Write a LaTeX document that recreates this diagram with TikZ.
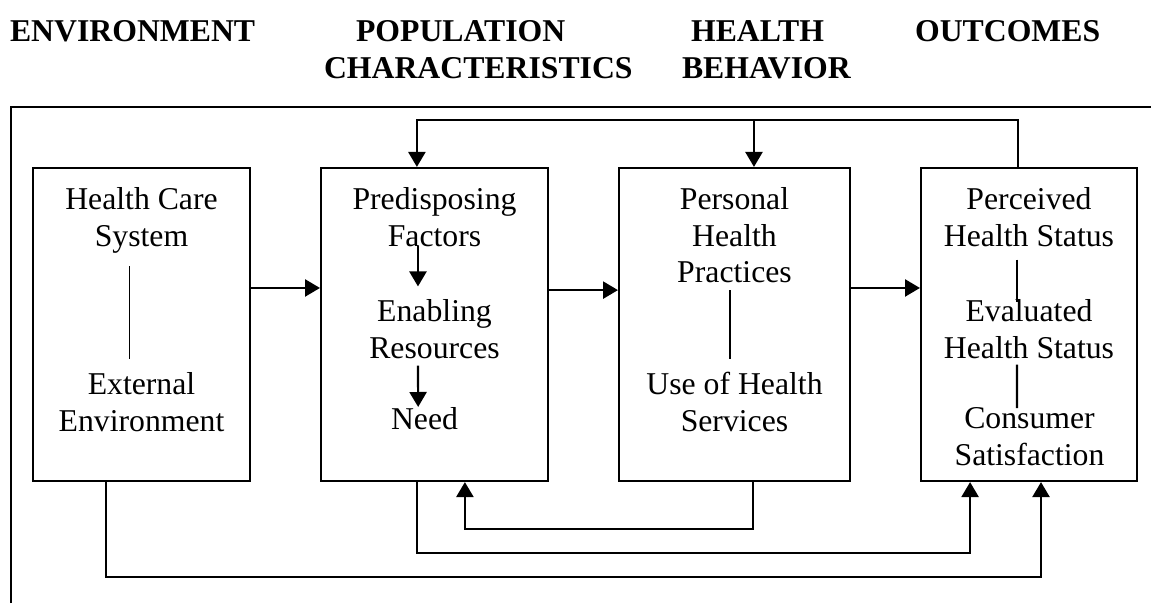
\documentclass[tikz,border=0pt]{standalone}
\usepackage{fontspec}
\setmainfont{Liberation Serif}
\usetikzlibrary{arrows.meta}

\begin{document}
\begin{tikzpicture}[x=0.375pt, y=-0.375pt, line width=0.8pt,
        box/.style={draw, minimum height=117.4pt, inner sep=0pt},
        txt/.style={align=center, anchor=north, inner sep=4.5pt, font=\fontsize{11.9}{13.76}\selectfont},
        head/.style={anchor=base west, inner sep=0pt, font=\fontsize{11.9}{13.76}\selectfont\bfseries},
        arr/.style={-{Triangle[length=5.6pt, width=6.4pt]}}]
        \useasboundingbox (0,0) rectangle (1151,603);

        \node[head] (henv) at (9,41) {ENVIRONMENT};
        \node[head] (hpop) at (355,41) {POPULATION};
        \node[head] (hchar) at (323,78) {CHARACTERISTICS};
        \node[head] (hhea) at (690,41) {HEALTH};
        \node[head] (hbeh) at (681,78) {BEHAVIOR};
        \node[head] (hout) at (914,41) {OUTCOMES};

        \draw (11,603) -- (11,107) -- (1151,107);

        \node[box, minimum width=81.4pt] (env) at (141.5,324.5) {};
        \node[box, minimum width=85.1pt] (pop) at (434.5,324.5) {};
        \node[box, minimum width=86.6pt] (beh) at (734.5,324.5) {};
        \node[box, minimum width=81pt] (out) at (1029,324.5) {};

        \node[txt] (hcs) at (141.5,174.4) {Health Care\\System};
        \node[txt] (ext) at (141.5,359.4) {External\\Environment};
        \node[txt] (pf) at (434.5,174.4) {Predisposing\\Factors};
        \node[txt] (er) at (434.5,286.4) {Enabling\\Resources};
        \node[txt] (need) at (424.5,394.4) {Need};
        \node[txt] (php) at (734.5,174.4) {Personal\\Health\\Practices};
        \node[txt] (uhs) at (734.5,359.4) {Use of Health\\Services};
        \node[txt] (phs) at (1029,174.4) {Perceived\\Health Status};
        \node[txt] (ehs) at (1029,286.4) {Evaluated\\Health Status};
        \node[txt] (cs) at (1029.5,394.4) {Consumer\\Satisfaction};

        \draw[line width=0.4pt] ([xshift=-4.5pt]hcs.south) -- ([xshift=-4.5pt]ext.north);
        \draw[arr, shorten <=-5.25pt] ([xshift=-6.2pt]pf.south) -- ([xshift=-6.2pt]er.north);
        \draw[arr, shorten <=-2.25pt, shorten >=-4.7pt] ([xshift=-6.2pt]er.south) -- ([xshift=-2.4pt]need.north);
        \draw[shorten <=-2.25pt] ([xshift=-1.7pt]php.south) -- ([xshift=-1.7pt]uhs.north);
        \draw[shorten >=-5.85pt] ([xshift=-4.5pt]phs.south) -- ([xshift=-4.5pt]ehs.north);
        \draw[shorten <=-2.6pt, shorten >=-5.1pt] ([xshift=-4.5pt]ehs.south) -- ([xshift=-4.7pt]cs.north);

        \draw[arr] ([yshift=13.7pt]env.east) -- ([yshift=13.7pt]pop.west);
        \draw[arr] ([yshift=12.9pt]pop.east) -- ([yshift=12.9pt]beh.west);
        \draw[arr] ([yshift=13.7pt]beh.east) -- ([yshift=13.7pt]out.west);

        \draw[arr] ([xshift=-4.1pt]out.north) -- ++(0,-47) coordinate (fb) -| ([xshift=-6.6pt]pop.north);
        \coordinate (tap) at ([xshift=7.3pt]beh.north);
        \draw[arr] (tap |- fb) -- (tap);

        \draw[arr] ([xshift=-13.3pt]env.south) -- ++(0,95) -| ([xshift=4.5pt]out.south);
        \draw[arr] ([xshift=-6.6pt]pop.south) -- ++(0,71) -| ([xshift=-22.1pt]out.south);
        \draw[arr] ([xshift=6.9pt]beh.south) -- ++(0,47) -| ([xshift=11.4pt]pop.south);
    \end{tikzpicture}
\end{document}
